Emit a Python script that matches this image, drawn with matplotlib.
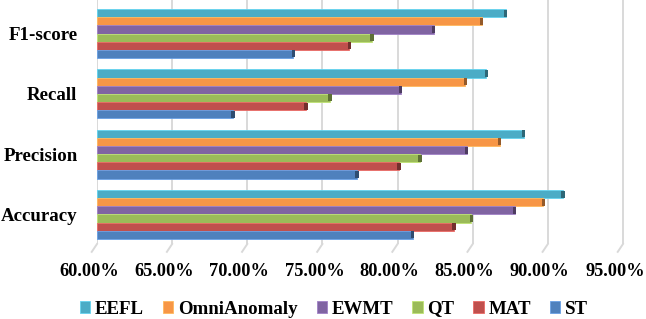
import numpy as np
import matplotlib
matplotlib.use("Agg")
import matplotlib.pyplot as plt
import matplotlib.transforms as mtransforms
from matplotlib.colors import to_rgb

# data (fractions)
metrics = ["Accuracy", "Precision", "Recall", "F1-score"]
methods = ["EEFL", "OmniAnomaly", "EWMT", "QT", "MAT", "ST"]
eefl = [0.910, 0.884, 0.859, 0.872]
omni = [0.897, 0.868, 0.845, 0.856]
ewmt = [0.878, 0.846, 0.802, 0.824]
qt = [0.849, 0.815, 0.755, 0.783]
mat = [0.8375, 0.801, 0.739, 0.768]
st = [0.810, 0.773, 0.6905, 0.7307]
ticks = [0.60, 0.65, 0.70, 0.75, 0.80, 0.85, 0.90, 0.95]

series = [eefl, omni, ewmt, qt, mat, st]
colors = ["#4BACC6", "#F79646", "#8064A2", "#9BBB59", "#C0504D", "#4F81BD"]

plt.rcParams['font.family'] = ['Liberation Serif', 'DejaVu Serif']
plt.rcParams['font.weight'] = 'bold'

W, H = 646, 319
fig = plt.figure(figsize=(W / 100, H / 100), dpi=100)
ax = fig.add_axes([97 / W, 75 / H, 543 / W, 244 / H])

y = np.arange(len(metrics))
bh = 0.135
for i, (vals, c) in enumerate(zip(series, colors)):
    off = (2.5 - i) * bh
    vals = np.array(vals)
    ax.barh(y + off, vals - 0.60, left=0.60, height=bh, color=c,
            edgecolor=tuple(min(1, v * 1.15 + 0.05) for v in to_rgb(c)),
            linewidth=0.6, zorder=3, label=methods[i])
    # dark end cap to mimic the 3d look
    dark = tuple(v * 0.6 for v in to_rgb(c))
    ax.barh(y + off, 0.0022, left=vals - 0.0011, height=bh * 0.85,
            color=dark, linewidth=0, zorder=4)

ax.set_xlim(0.60, 0.60 + 543 / (526 / 0.35))
ax.set_ylim(-0.49, 3.556)
ax.set_xticks(ticks)
ax.set_xticklabels([f"{t * 100:.2f}%" for t in ticks])
ax.set_yticks(y)
ax.set_yticklabels(metrics)
ax.tick_params(axis='both', length=0, labelsize=13.6)
ax.tick_params(axis='x', pad=14, labelsize=13.2)
ax.tick_params(axis='y', pad=14)
ax.grid(axis='x', color='#D9D9D9', linewidth=1.4, zorder=0)
for s in ax.spines.values():
    s.set_visible(False)

# floor part of the gridlines, slanting toward the viewer
for t in ticks:
    ax.plot([t, t - 0.0035], [-0.49, -0.62], color='#D9D9D9', lw=1.4,
            clip_on=False, zorder=0)

# labels sit on the front edge of the floor, a bit left of the wall lines
shift = mtransforms.ScaledTranslation(-8 / 100, 0, fig.dpi_scale_trans)
for lab in ax.get_xticklabels():
    lab.set_transform(lab.get_transform() + shift)

handles, labels = ax.get_legend_handles_labels()
fig.legend(handles, labels, loc='center', bbox_to_anchor=(334 / W, 1 - 309 / H),
           ncol=6, frameon=False, fontsize=13.6, handlelength=0.55,
           handleheight=0.55, handletextpad=0.25, columnspacing=1.0,
           borderpad=0)

fig.savefig("out.png", dpi=100)
